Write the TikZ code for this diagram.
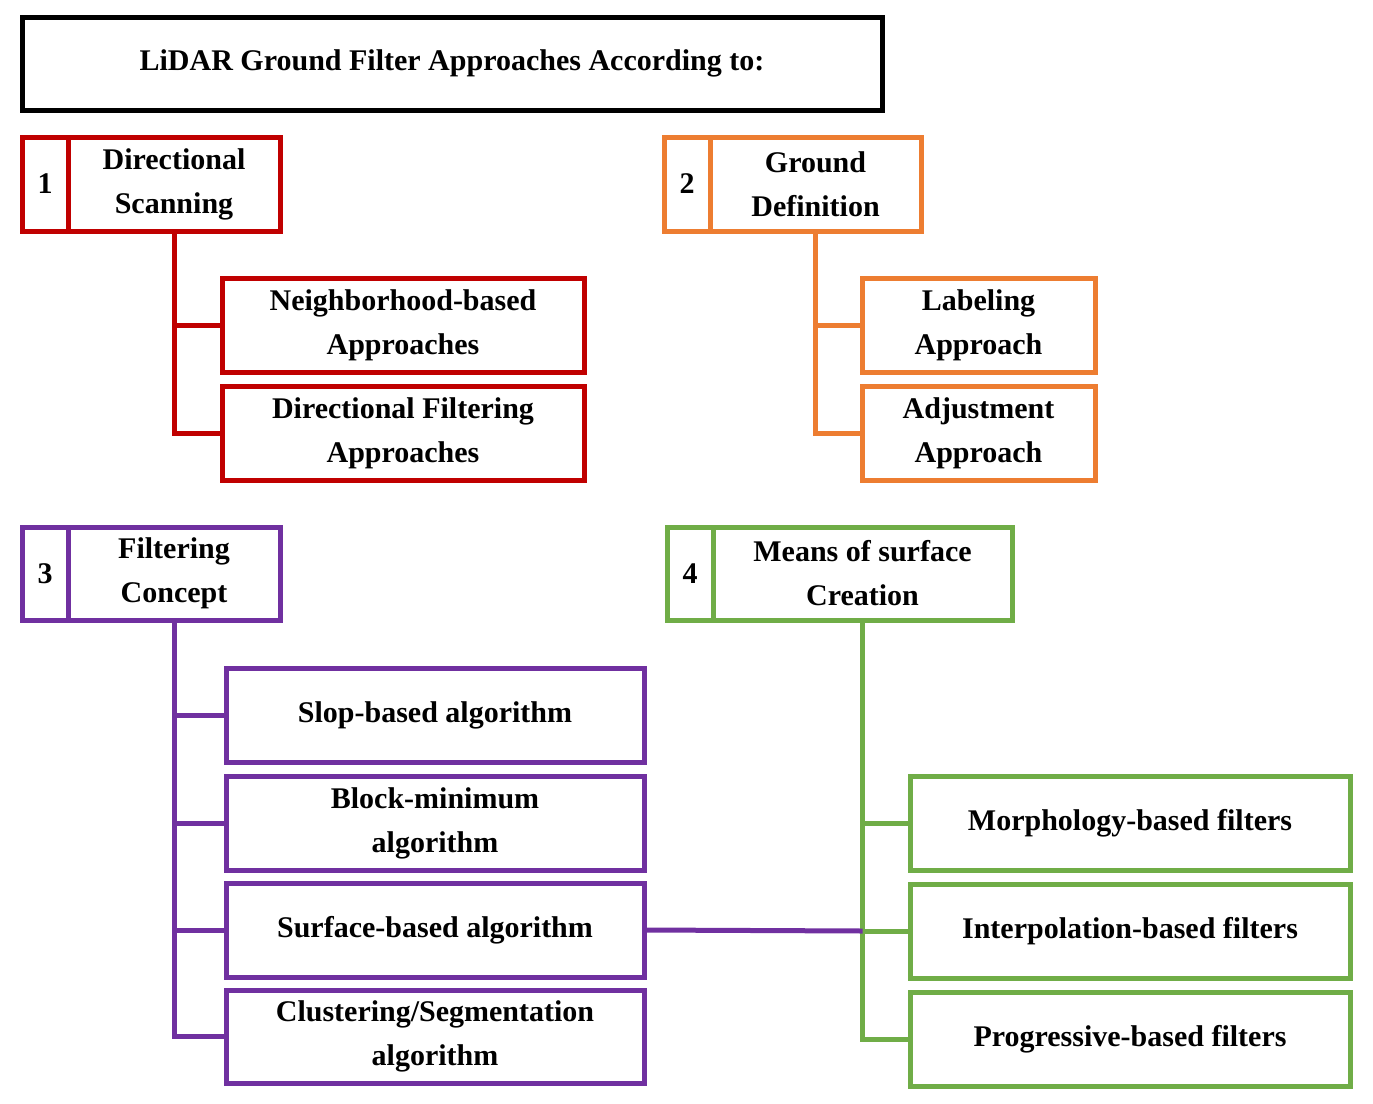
\documentclass[tikz,border=0pt]{standalone}
\usepackage{fontspec}
\setmainfont{Liberation Serif}
\definecolor{cr}{HTML}{C00000}
\definecolor{co}{HTML}{ED7D31}
\definecolor{cp}{HTML}{7030A0}
\definecolor{cg}{HTML}{70AD47}
\begin{document}
\begin{tikzpicture}[x=1pt,y=-1pt,
  box/.style={draw=#1,line width=5pt,inner sep=0pt,outer sep=0pt,align=center,
    font=\bfseries\fontsize{30}{44}\selectfont},
  ln/.style={draw=#1,line width=5pt}]
\useasboundingbox (0,0) rectangle (1373,1103);
\newcommand\bx[7]{\node[box=#6,minimum width={#4-#2},minimum height={#5-#3}] (#1) at ({(#2+#4)/2},{(#3+#5)/2}) {#7};}
\bx{title}{22}{17}{882}{110}{black}{LiDAR Ground Filter Approaches According to:}
% group 1
\bx{k1}{22}{137}{68}{231}{cr}{1}
\bx{h1}{68}{137}{280}{231}{cr}{Directional\\Scanning}
\bx{a1}{222}{278}{584}{372}{cr}{Neighborhood-based\\Approaches}
\bx{a2}{222}{386}{584}{480}{cr}{Directional Filtering\\Approaches}
\draw[ln=cr] (h1.south) |- (a1.west);
\draw[ln=cr] (h1.south) |- (a2.west);
% group 2
\bx{k2}{664}{137}{710}{231}{co}{2}
\bx{h2}{710}{137}{921}{231}{co}{Ground\\Definition}
\bx{b1}{862}{278}{1095}{372}{co}{Labeling\\Approach}
\bx{b2}{862}{386}{1095}{480}{co}{Adjustment\\Approach}
\draw[ln=co] (h2.south) |- (b1.west);
\draw[ln=co] (h2.south) |- (b2.west);
% group 3
\bx{k3}{22}{527}{68}{620}{cp}{3}
\bx{h3}{68}{527}{280}{620}{cp}{Filtering\\Concept}
\bx{c1}{226}{668}{644}{762}{cp}{Slop-based algorithm}
\bx{c2}{226}{776}{644}{870}{cp}{Block-minimum\\algorithm}
\bx{c3}{226}{883}{644}{977}{cp}{Surface-based algorithm}
\bx{c4}{226}{990}{644}{1083}{cp}{Clustering/Segmentation\\algorithm}
\foreach \n in {c1,c2,c3,c4}{\draw[ln=cp] (h3.south) |- (\n.west);}
% group 4
\bx{k4}{667}{527}{713}{620}{cg}{4}
\bx{h4}{713}{527}{1012}{620}{cg}{Means of surface\\Creation}
\bx{d1}{910}{776}{1350}{870}{cg}{Morphology-based filters}
\bx{d2}{910}{884}{1350}{978}{cg}{Interpolation-based filters}
\bx{d3}{910}{992}{1350}{1086}{cg}{Progressive-based filters}
\foreach \n in {d1,d2,d3}{\draw[ln=cg] (h4.south) |- (\n.west);}
\coordinate (j) at (h4.south |- d2.west);
\draw[ln=cp] (c3.east) -- (j);
\end{tikzpicture}
\end{document}
